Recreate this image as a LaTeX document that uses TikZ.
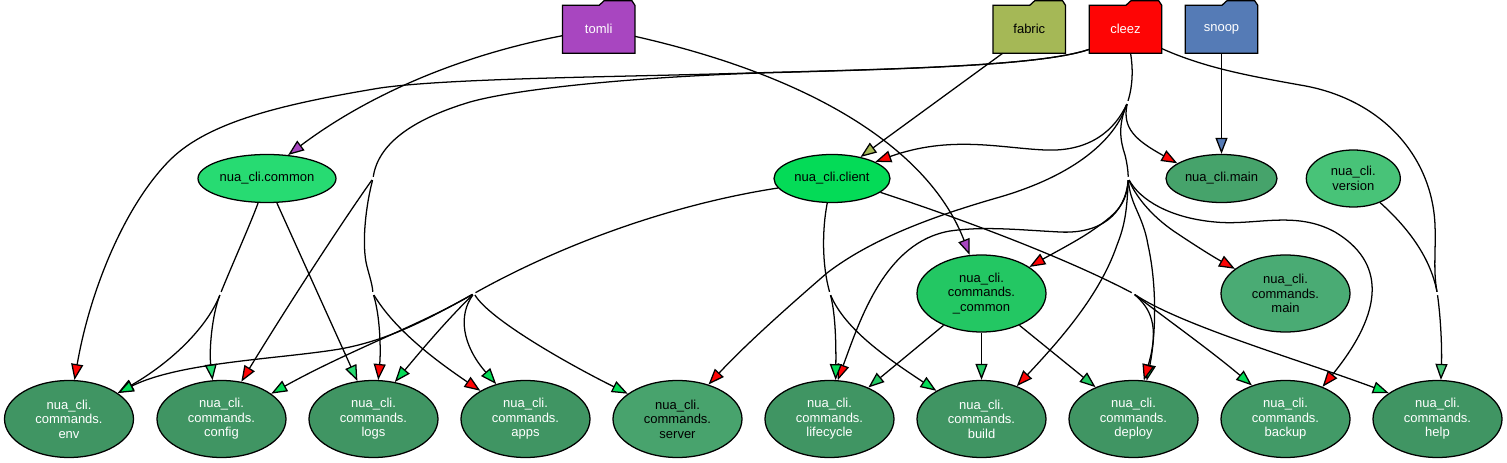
\documentclass[tikz,border=0pt]{standalone}
\usepackage{fontspec}
\setmainfont{Liberation Sans}
\usetikzlibrary{arrows.meta,shapes.geometric}

\definecolor{tomlicol}{HTML}{A846C0}
\definecolor{fabriccol}{HTML}{A5B856}
\definecolor{cleezcol}{HTML}{FE0505}
\definecolor{snoopcol}{HTML}{557BB6}
\definecolor{commoncol}{HTML}{27DB72}
\definecolor{clientcol}{HTML}{04DB57}
\definecolor{maincol}{HTML}{46A36B}
\definecolor{versioncol}{HTML}{48C378}
\definecolor{cmdcommoncol}{HTML}{23C763}
\definecolor{cmdmaincol}{HTML}{4AAB74}
\definecolor{cmdcol}{HTML}{409563}
\definecolor{servercol}{HTML}{48A36D}
\definecolor{backupcol}{HTML}{429A67}

\tikzset{
    modnode/.style={ellipse, draw=black, line width=0.95pt, inner sep=0pt, align=center,
        font=\fontsize{9.75}{10.9}\selectfont},
    cmdnode/.style={modnode, minimum width=96.75pt, minimum height=57.75pt},
    flatnode/.style={modnode, minimum height=36pt},
    folder/.style={rectangle, fill=#1, inner sep=0pt, outer sep=0pt, minimum width=54.3pt,
        minimum height=36pt, font=\fontsize{9.75}{10.9}\selectfont},
    junction/.style={circle, fill=white, inner sep=0pt, outer sep=0pt, minimum size=2.6pt},
    arr/.style={-{Triangle[length=12pt,width=9pt,fill=#1]}}
}

\begin{document}
\begin{tikzpicture}[x=0.75pt,y=-0.75pt,line width=0.95pt]
    \useasboundingbox (0,0) rectangle (1507,463);

    % Packages
    \foreach \name/\x/\txt in {tomli/598.7/white, fabric/1029.3/black, cleez/1125.5/white, snoop/1221.5/white} {
        \node[folder=\name col, text=\txt] (\name) at (\x,29.3) {\name};
    }
    \foreach \name in {tomli,fabric,cleez,snoop} {
        \fill[\name col] ([xshift=27.5pt]\name.north west) -- ([xshift=31.3pt,yshift=3.5pt]\name.north west)
            -- ([xshift=-2.3pt,yshift=3.5pt]\name.north east) -- (\name.north east) -- cycle;
        \draw[line join=miter] (\name.north west) -- ([xshift=27.5pt]\name.north west)
            -- ([xshift=31.3pt,yshift=3.5pt]\name.north west) -- ([xshift=-2.3pt,yshift=3.5pt]\name.north east)
            -- (\name.north east) -- (\name.south east) -- (\name.south west) -- cycle;
    }

    % Modules, upper ranks
    \node[flatnode, fill=commoncol, minimum width=103.5pt] (common) at (267,178.5) {nua\_cli.common};
    \node[flatnode, fill=clientcol, minimum width=87pt] (client) at (832,178.5) {nua\_cli.client};
    \node[flatnode, fill=maincol, minimum width=83.25pt] (main) at (1221.5,178.5) {nua\_cli.main};
    \node[modnode, fill=versioncol, minimum width=70.5pt, minimum height=42.75pt] (version) at (1353.3,178.5) {nua\_cli.\\version};
    \node[cmdnode, fill=cmdcommoncol] (cmdcommon) at (981.5,293.5) {nua\_cli.\\commands.\\\_common};
    \node[cmdnode, fill=cmdmaincol] (cmdmain) at (1285.5,293.5) {nua\_cli.\\commands.\\main};

    % Modules, bottom rank
    \foreach \name/\x/\col/\txt in {
        env/69/cmdcol/white,
        config/221.5/cmdcol/white,
        logs/373.5/cmdcol/white,
        apps/525.5/cmdcol/white,
        server/677.5/servercol/black,
        lifecycle/829.5/cmdcol/white,
        build/981.5/cmdcol/white,
        deploy/1133.5/cmdcol/white,
        backup/1285.5/backupcol/white,
        help/1437.5/cmdcol/white%
    } {
        \node[cmdnode, fill=\col, text=\txt] (\name) at (\x,419) {nua\_cli.\\commands.\\\name};
    }

    % Junction points
    \foreach \name/\x/\y in {
        jone/373/178.5, jtwo/220.5/293.5, jthree/373/293.5, jfour/474/293.5, jfive/830/293.5,
        jsix/1127.5/102.5, jseven/1128.3/178.5, jeight/1133.3/293.5, jnine/1437.3/293.5%
    } {
        \node[junction] (\name) at (\x,\y) {};
    }

    % Edges from tomli, fabric, snoop
    \draw[arr=tomlicol] (tomli.190) .. controls (459,55.5) and (368,95) .. (common.48);
    \draw[arr=tomlicol] (tomli.-11) .. controls (819,78) and (930,152) .. (cmdcommon.107);
    \draw[arr=fabriccol] (fabric.222) -- (client.37);
    \draw[arr=snoopcol] (snoop) -- (main);

    % Edges from cleez
    \draw[arr=cleezcol] (cleez.209) .. controls (1040,66) and (900,69) .. (750,73)
        .. controls (620,77) and (450,78) .. (380,88)
        .. controls (290,103) and (210,120) .. (170,160)
        .. controls (125,205) and (90,290) .. (env.82);
    \draw (cleez.209) .. controls (1040,66) and (900,69) .. (760,73)
        .. controls (640,77) and (520,88) .. (470,102)
        .. controls (410,120) and (378,145) .. (jone);
    \draw (cleez.-28) .. controls (1205,68) and (1250,76) .. (1300,85)
        .. controls (1380,98) and (1432,155) .. (1435,225)
        .. controls (1436,250) and (1433,270) .. (jnine);
    \draw (cleez.-78) .. controls (1133,68) and (1133,85) .. (jsix);
    \draw[arr=cleezcol] (jone) .. controls (340,225) and (285,310) .. (config.62);
    \draw (jone) .. controls (366,205) and (362,240) .. (366,262) .. controls (368,272) and (372,282) .. (jthree);
    \draw[arr=cleezcol] (jthree) .. controls (380,315) and (381,350) .. (logs.83);
    \draw[arr=cleezcol] (jthree) .. controls (395,330) and (435,360) .. (apps.148);
    \draw[arr=cleezcol] (jsix) .. controls (1115,130) and (1090,152) .. (1045,150)
        .. controls (1000,148) and (950,135) .. (client.21);
    \draw[arr=cleezcol] (jsix) .. controls (1115,140) and (1075,175) .. (1000,197)
        .. controls (930,217) and (870,240) .. (827,273)
        .. controls (790,305) and (745,345) .. (server.48);
    \draw[arr=cleezcol] (jsix) .. controls (1122,128) and (1135,140) .. (main.161);
    \draw (jsix) .. controls (1118,125) and (1120,140) .. (1125,155) .. controls (1127,163) and (1128,170) .. (jseven);
    \draw[arr=cleezcol] (jseven) .. controls (1127,205) and (1115,215) .. (1090,232)
        .. controls (1075,242) and (1050,255) .. (cmdcommon.29);
    \draw[arr=cleezcol] (jseven) .. controls (1125,215) and (1100,234) .. (1060,232)
        .. controls (1020,230) and (985,226) .. (950,231)
        .. controls (885,242) and (860,320) .. (lifecycle.78);
    \draw[arr=cleezcol] (jseven) .. controls (1127,210) and (1125,225) .. (1117,245)
        .. controls (1100,295) and (1060,340) .. (build.43);
    \draw[arr=clientcol] (jseven) .. controls (1130,205) and (1143,215) .. (1148,245)
        .. controls (1158,290) and (1155,340) .. (deploy.71);
    \draw[arr=cleezcol] (jseven) .. controls (1135,195) and (1150,215) .. (1175,232) .. controls (1190,242) and (1210,255) .. (cmdmain.154);
    \draw[arr=cleezcol] (jseven) .. controls (1140,200) and (1170,218) .. (1215,222)
        .. controls (1255,226) and (1295,210) .. (1335,232)
        .. controls (1385,262) and (1385,310) .. (backup.41);

    % Edges from nua_cli.common
    \draw (common.250) .. controls (250,225) and (232,265) .. (jtwo);
    \draw[arr=commoncol] (common.-68) -- (logs.113);
    \draw[arr=commoncol] (jtwo) .. controls (208,325) and (175,360) .. (env.28);
    \draw[arr=commoncol] (jtwo) .. controls (212,315) and (209,350) .. (config.103);

    % Edges from nua_cli.client
    \draw (client.190) .. controls (680,203) and (570,240) .. (jfour);
    \draw[arr=clientcol] (jfour) .. controls (430,318) and (390,340) .. (340,349) .. controls (280,359) and (180,362) .. (env.28);
    \draw[arr=clientcol] (jfour) .. controls (420,325) and (350,350) .. (config.27);
    \draw[arr=clientcol] (jfour) .. controls (445,322) and (420,352) .. (logs.60);
    \draw[arr=clientcol] (jfour) .. controls (458,315) and (462,345) .. (apps.130);
    \draw[arr=clientcol] (jfour) .. controls (490,320) and (570,365) .. (server.153);
    \draw (client.-101) .. controls (822,230) and (822,265) .. (jfive);
    \draw[arr=clientcol] (jfive) .. controls (836,315) and (836,350) .. (lifecycle.81);
    \draw[arr=clientcol] (jfive) .. controls (845,330) and (890,360) .. (build.148);
    \draw (client.-16) .. controls (950,215) and (1060,255) .. (jeight);
    \draw[arr=clientcol] (jeight) .. controls (1165,318) and (1210,350) .. (backup.135);
    \draw[arr=clientcol] (jeight) .. controls (1180,325) and (1300,360) .. (help.152);
    \draw[arr=cleezcol] (jeight) .. controls (1150,308) and (1160,325) .. (deploy.75);

    % Edges from nua_cli.commands._common
    \draw[arr=cmdcommoncol] (cmdcommon.220) -- (lifecycle.39);
    \draw[arr=cmdcommoncol] (cmdcommon) -- (build);
    \draw[arr=cmdcommoncol] (cmdcommon.-40) -- (deploy.140);

    % Edges from nua_cli.version
    \draw (version.-42) .. controls (1405,225) and (1430,255) .. (jnine);
    \draw[arr=versioncol] (jnine) .. controls (1441,320) and (1442,350) .. (help.85);
\end{tikzpicture}
\end{document}
